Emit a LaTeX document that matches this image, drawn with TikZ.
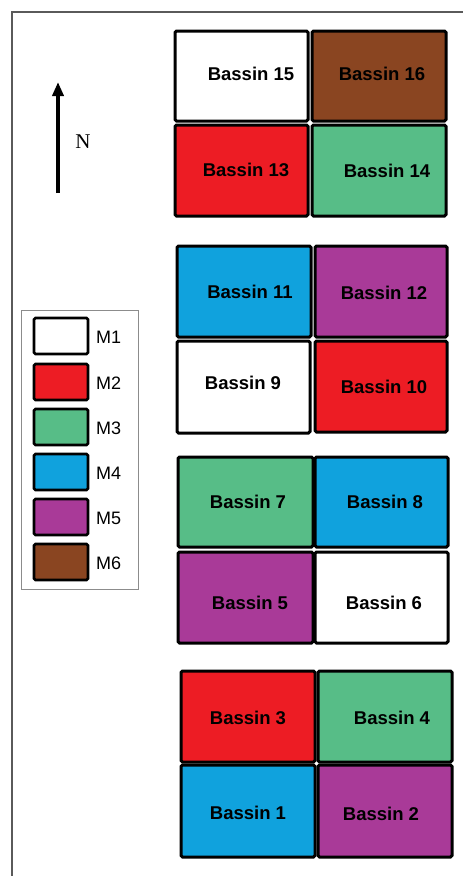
\documentclass[tikz,border=0pt]{standalone}
\usepackage{fontspec}
\usepackage{xcolor}
\usepackage{tikz}
\usetikzlibrary{arrows.meta}
\newfontfamily\lblfont{Liberation Sans}
\newfontfamily\nfont{Liberation Serif}
\definecolor{frame}{HTML}{5A5A5A}
\definecolor{legframe}{HTML}{8C8C8C}
\definecolor{mOne}{HTML}{FFFFFF}
\definecolor{mTwo}{HTML}{ED1C24}
\definecolor{mThree}{HTML}{57BD87}
\definecolor{mFour}{HTML}{10A2DD}
\definecolor{mFive}{HTML}{A93A98}
\definecolor{mSix}{HTML}{8A4521}
\tikzset{
  bassin/.style={draw=black, line width=3pt, rounded corners=1.5pt},
  bassinLbl/.style={font=\lblfont\bfseries\fontsize{18.5}{20}\selectfont, inner sep=0pt},
  legSwatch/.style={draw=black, line width=2.8pt, rounded corners=1.5pt},
  legLbl/.style={font=\lblfont\fontsize{18}{20}\selectfont, inner sep=0pt, anchor=west},
  northArrow/.style={line width=3.8pt, -{Triangle[length=14pt,width=11pt]}},
}
% #1 number, #2 colour, #3-#6 corners, #7-#8 label centre
\newcommand{\Bassin}[8]{%
  \path[bassin, fill=#2] (#3,#4) rectangle (#5,#6);
  \node[bassinLbl] (b#1) at (#7,#8) {Bassin #1};
}
\newcommand{\LegItem}[3]{%
  \path[legSwatch, fill=#2] (34,#3) rectangle (88,#3+36);
  \node[legLbl] (m#1) at (96,#3+19) {M#1};
}

\begin{document}
\begin{tikzpicture}[x=1pt, y=-1pt]
  \useasboundingbox (0,0) rectangle (463,876);
  \fill[white] (0,0) rectangle (463,876);

  % frame (only top and left visible)
  \draw[frame, line width=1.2pt] (12,876) -- (12,12) -- (463,12);

  % north arrow
  \coordinate (nS) at (58,193);
  \coordinate (nE) at (58,82);
  \draw[northArrow] (nS) -- (nE);
  \node[font=\nfont\fontsize{21}{23}\selectfont, inner sep=0pt] (north) at (83,142) {N};

  % legend
  \draw[legframe, line width=1pt] (21,310) rectangle (138,589);
  \LegItem{1}{mOne}{318}
  \LegItem{2}{mTwo}{364}
  \LegItem{3}{mThree}{409}
  \LegItem{4}{mFour}{454}
  \LegItem{5}{mFive}{499}
  \LegItem{6}{mSix}{544}

  % block 1
  \Bassin{15}{mOne}{175}{31}{308}{121}{251}{74}
  \Bassin{16}{mSix}{312}{31}{446}{121}{382}{74}
  \Bassin{13}{mTwo}{175}{125}{308}{216}{246}{170}
  \Bassin{14}{mThree}{312}{125}{446}{216}{387}{171}

  % block 2
  \Bassin{11}{mFour}{177}{246}{311}{337}{250}{292}
  \Bassin{12}{mFive}{315}{246}{447}{337}{384}{293}
  \Bassin{9}{mOne}{177}{341}{310}{433}{243}{383}
  \Bassin{10}{mTwo}{315}{341}{447}{432}{384}{387}

  % block 3
  \Bassin{7}{mThree}{178}{457}{313}{547}{248}{502}
  \Bassin{8}{mFour}{315}{457}{448}{547}{385}{502}
  \Bassin{5}{mFive}{178}{552}{313}{643}{250}{603}
  \Bassin{6}{mOne}{315}{552}{448}{643}{384}{603}

  % block 4
  \Bassin{3}{mTwo}{181}{671}{315}{762}{248}{718}
  \Bassin{4}{mThree}{318}{671}{452}{762}{392}{718}
  \Bassin{1}{mFour}{181}{765}{315}{857}{248}{813}
  \Bassin{2}{mFive}{318}{765}{452}{857}{381}{814}
\end{tikzpicture}
\end{document}
